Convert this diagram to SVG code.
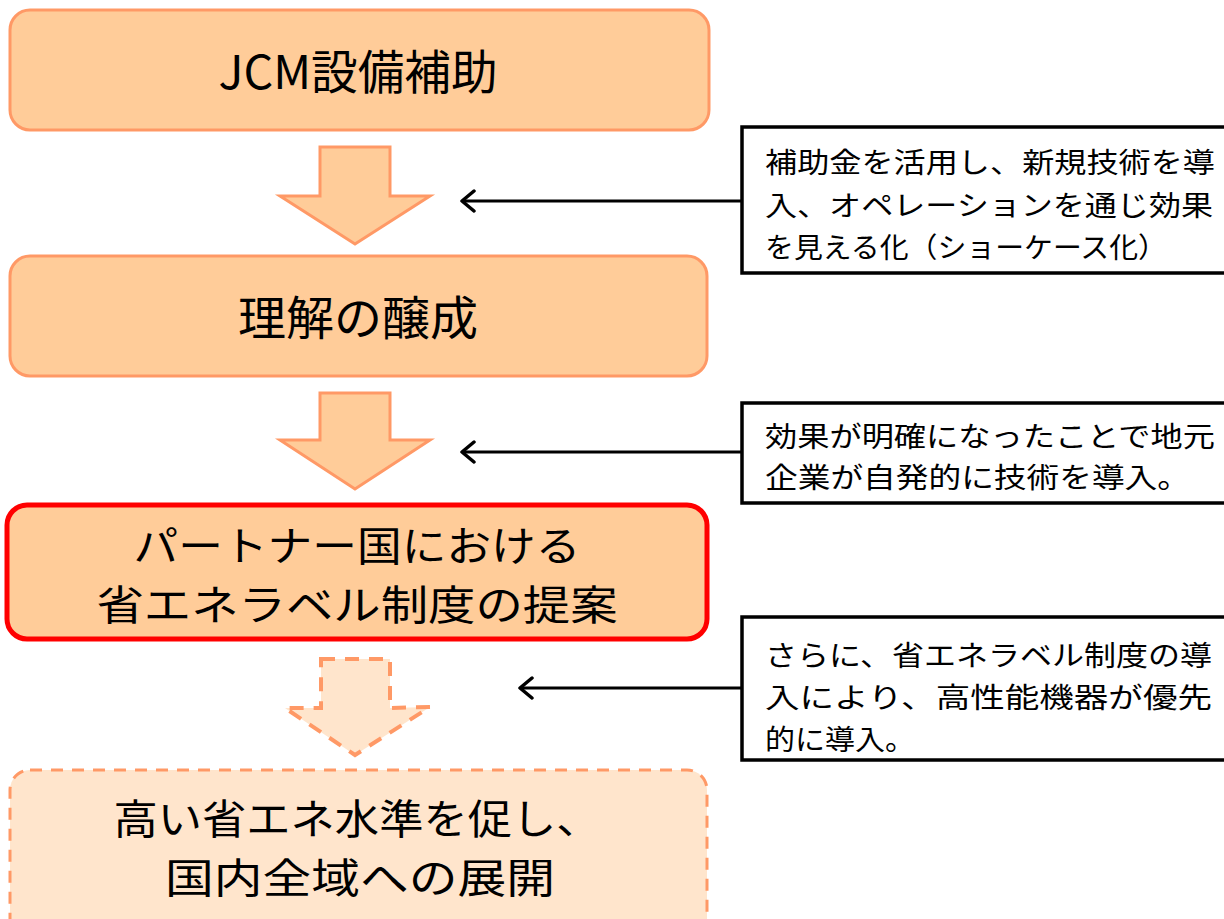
<svg xmlns="http://www.w3.org/2000/svg" width="1224" height="919" viewBox="0 0 1224 919">
<defs>
<style>
.box{fill:#FFCC99;stroke:#FF9966;stroke-width:3}
.red{fill:#FFCC99;stroke:#FF0000;stroke-width:5}
.dash{fill:#FFE5CC;stroke:#FF9966;stroke-width:3;stroke-dasharray:12 9}
.arr{fill:#FFCC99;stroke:#FF9966;stroke-width:3}
.arrd{fill:#FFE5CC;stroke:#FF9966;stroke-width:4;stroke-dasharray:14 10}
.note{fill:#FFFFFF;stroke:#000000;stroke-width:3.5}
.big{font-family:"Noto Sans CJK JP","Noto Sans",sans-serif;font-size:47px;fill:#000;text-anchor:middle}
.two{font-size:40.5px}
.sm{font-family:"Noto Sans CJK JP","Noto Sans",sans-serif;font-size:28px;fill:#000}
.con{stroke:#000;stroke-width:3;fill:none}
</style>
<marker id="open" markerWidth="18" markerHeight="24" refX="15" refY="12" orient="auto" markerUnits="userSpaceOnUse">
<polyline points="3,2 15,12 3,22" fill="none" stroke="#000" stroke-width="3.5" stroke-linecap="round" stroke-linejoin="round"/>
</marker>
</defs>
<g id="node-jcm">
<rect class="box" x="10" y="10" width="699" height="120" rx="20"/>
<text class="big" x="358" y="89" textLength="279" lengthAdjust="spacingAndGlyphs">JCM設備補助</text>
</g>
<g id="arrow-down-1">
<polygon class="arr" points="320,147 390,147 390,196 430,196 355,244 280,196 320,196"/>
</g>
<g id="node-understanding">
<rect class="box" x="10" y="256" width="697" height="120" rx="20"/>
<text class="big" x="358" y="335" textLength="240" lengthAdjust="spacingAndGlyphs">理解の醸成</text>
</g>
<g id="arrow-down-2">
<polygon class="arr" points="320,393 390,393 390,440 430,440 355,489 280,440 320,440"/>
</g>
<g id="node-proposal">
<rect class="red" x="7" y="505" width="700" height="134" rx="20"/>
<text class="big two" x="357" y="561" textLength="447" lengthAdjust="spacingAndGlyphs">パートナー国における</text>
<text class="big two" x="357" y="620" textLength="521" lengthAdjust="spacingAndGlyphs">省エネラベル制度の提案</text>
</g>
<g id="arrow-down-3">
<polygon class="arrd" points="321,659 390,659 390,708 430,707 355,755 285,708 321,708"/>
</g>
<g id="node-expansion">
<rect class="dash" x="10" y="770" width="697" height="170" rx="20"/>
<text class="big two" x="357" y="834" textLength="487" lengthAdjust="spacingAndGlyphs">高い省エネ水準を促し、</text>
<text class="big two" x="360" y="893" textLength="390" lengthAdjust="spacingAndGlyphs">国内全域への展開</text>
</g>
<g id="note-1">
<rect class="note" x="742" y="127" width="490" height="146"/>
<text class="sm" x="765" y="173" textLength="450" lengthAdjust="spacingAndGlyphs">補助金を活用し、新規技術を導</text>
<text class="sm" x="765" y="216" textLength="448" lengthAdjust="spacingAndGlyphs">入、オペレーションを通じ効果</text>
<text class="sm" x="765" y="258" textLength="402" lengthAdjust="spacingAndGlyphs">を見える化（ショーケース化）</text>
</g>
<g id="note-2">
<rect class="note" x="742" y="403" width="490" height="100"/>
<text class="sm" x="765" y="447" textLength="450" lengthAdjust="spacingAndGlyphs">効果が明確になったことで地元</text>
<text class="sm" x="765" y="488" textLength="425" lengthAdjust="spacingAndGlyphs">企業が自発的に技術を導入。</text>
</g>
<g id="note-3">
<rect class="note" x="742" y="617" width="490" height="143"/>
<text class="sm" x="765" y="666" textLength="447" lengthAdjust="spacingAndGlyphs">さらに、省エネラベル制度の導</text>
<text class="sm" x="765" y="708" textLength="447" lengthAdjust="spacingAndGlyphs">入により、高性能機器が優先</text>
<text class="sm" x="765" y="750" textLength="150" lengthAdjust="spacingAndGlyphs">的に導入。</text>
</g>
<g id="connectors">
<line class="con" x1="742" y1="201" x2="462" y2="201" marker-end="url(#open)"/>
<line class="con" x1="742" y1="452" x2="462" y2="452" marker-end="url(#open)"/>
<line class="con" x1="742" y1="688" x2="520" y2="688" marker-end="url(#open)"/>
</g>
</svg>
